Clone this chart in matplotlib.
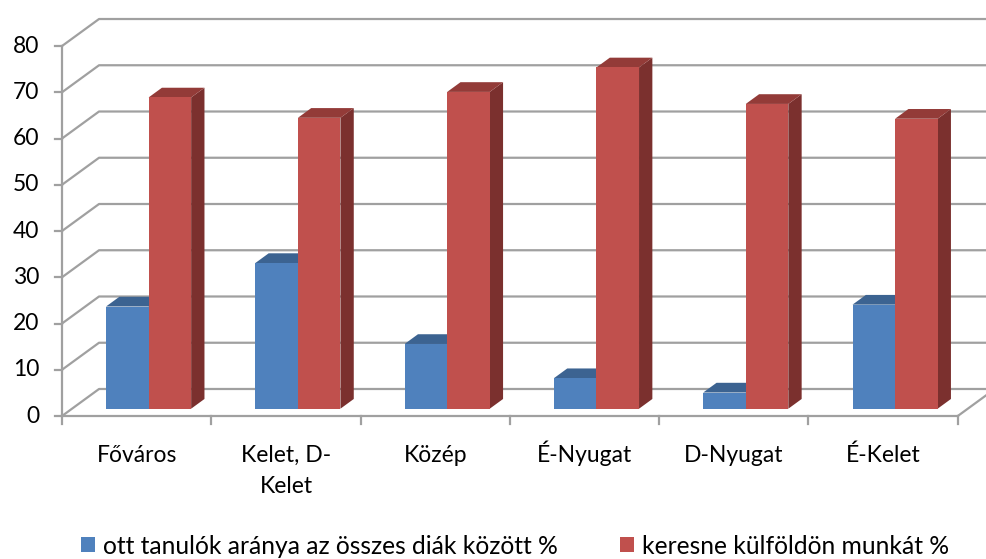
import matplotlib
matplotlib.use('Agg')
import matplotlib.pyplot as plt
from matplotlib.patches import Polygon, Patch

# ─── Données ──────────────────────────────────────────────────────────────
categories = ['Főváros', 'Kelet, D-\nKelet', 'Közép', 'É-Nyugat', 'D-Nyugat', 'É-Kelet']
ott_tanulok = [22.1, 31.5, 14.0, 6.6, 3.5, 22.5]
kulfoldon = [67.3, 62.9, 68.5, 73.8, 65.9, 62.7]
series_names = ['ott tanulók aránya az összes diák között %',
                'keresne külföldön munkát %']
yticks = [0, 10, 20, 30, 40, 50, 60, 70, 80]

# couleurs (face, dessus, côté)
BLUE = ('#4f81bd', '#3c6391', '#385d8a')
RED = ('#c0504d', '#933b38', '#7b302e')
GRID = '#a0a0a0'

# projection oblique : profondeur d dans [0, 1]
DX, DV = 0.248, 5.84
D0, D1 = 0.27, 0.63
BAR_W = 0.285
BAR_X0 = 0.228
PX_V = 4.625     # pixels par unité de valeur


def P(x, v, d):
    return (x + d * DX, v + d * DV)


plt.rcParams['font.family'] = ['Lato', 'DejaVu Sans']

fig = plt.figure(figsize=(9.86, 5.59), dpi=100)
ax = fig.add_axes([0, 0, 1, 1])
ax.set_xlim(-0.4153, 6.189)
ax.set_ylim(-30.92, 89.95)
ax.axis('off')

n = len(categories)

# mur du fond + paroi gauche
for v in yticks:
    pts = [P(0, v, 0), P(0, v, 1), P(n, v, 1)]
    ax.plot([p[0] for p in pts], [p[1] for p in pts], color=GRID, lw=1.6,
            solid_capstyle='butt', zorder=1)
    ax.plot([-0.047, 0], [v, v], color=GRID, lw=1.6, zorder=1)
    ax.text(-0.15, v, str(v), ha='right', va='center', fontsize=16.5, color='black')

# axe vertical, sol
ax.plot([0, 0], [0, yticks[-1]], color=GRID, lw=1.6, zorder=1)
ax.plot([0, n], [0, 0], color=GRID, lw=1.6, zorder=1)
pr = [P(n, 0, 0), P(n, 0, 1)]
ax.plot([p[0] for p in pr], [p[1] for p in pr], color=GRID, lw=1.6, zorder=1)
for k in range(n + 1):
    ax.plot([k, k], [0, -1.75], color=GRID, lw=1.6, zorder=1)

# barres 3D
for i in range(n):
    for s, (vals, cols) in enumerate([(ott_tanulok, BLUE), (kulfoldon, RED)]):
        v = vals[i]
        x0 = i + BAR_X0 + s * BAR_W
        x1 = x0 + BAR_W
        side = [P(x1, 0, D0), P(x1, 0, D1), P(x1, v, D1), P(x1, v, D0)]
        top = [P(x0, v, D0), P(x1, v, D0), P(x1, v, D1), P(x0, v, D1)]
        front = [P(x0, 0, D0), P(x1, 0, D0), P(x1, v, D0), P(x0, v, D0)]
        z = 2 + i * 2 + s
        ax.add_patch(Polygon(side, closed=True, fc=cols[2], ec='none', zorder=z))
        ax.add_patch(Polygon(top, closed=True, fc=cols[1], ec='none', zorder=z))
        ax.add_patch(Polygon(front, closed=True, fc=cols[0], ec='none', zorder=z))

# étiquettes des catégories (ligne de base commune, interligne ~31.5 px)
for i, c in enumerate(categories):
    for j, line in enumerate(c.split('\n')):
        ax.text(i + 0.5, -46 / PX_V - j * 31.5 / PX_V, line, ha='center',
                va='baseline', fontsize=16.5, color='black')

# légende
handles = [Patch(fc=BLUE[0], ec='none'), Patch(fc=RED[0], ec='none')]
fig.legend(handles, series_names, loc='center', bbox_to_anchor=(0.5223, 1 - 546 / 559),
           ncol=2, frameon=False, fontsize=17.7, handlelength=0.57, handleheight=0.57,
           handletextpad=0.33, columnspacing=2.5, borderaxespad=0, borderpad=0)

plt.savefig('out.png', dpi=100)
